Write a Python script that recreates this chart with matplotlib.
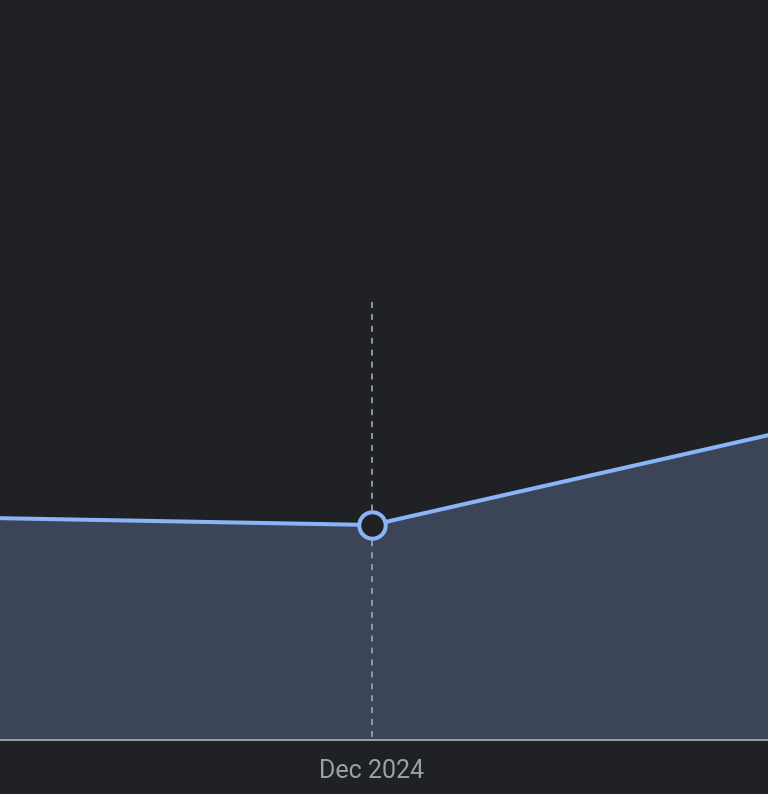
import numpy as np
import matplotlib.pyplot as plt

# Data (monthly values)
months = ["Nov 2024", "Dec 2024", "Jan 2025"]
values = [226, 215, 351]
highlight = "Dec 2024"

bg = "#202124"
line_c = "#8ab4f8"
fill_c = "#3b4557"
grid_c = "#9aa0a6"

x = np.arange(len(months))
hi = months.index(highlight)

fig = plt.figure(figsize=(7.68, 7.94), dpi=100, facecolor=bg)
ax = fig.add_axes([0, 54 / 794, 1, 740 / 794], facecolor=bg)

ax.fill_between(x, values, 0, color=fill_c, lw=0, zorder=1)
ax.plot(x, values, color=line_c, lw=2.9, solid_capstyle="round", zorder=3)

# hover crosshair (drawn top-down so the dashes start at the top) + marker
ax.plot([x[hi], x[hi]], [740 - 302, 0], color=grid_c, lw=1.3,
        ls=(0, (3.3, 3.3)), zorder=2)
ax.plot(x[hi], values[hi], "o", ms=19, mfc=bg, mec=line_c, mew=2.9, zorder=4)

s = 600  # pixels per month
ax.set_xlim(x[hi] - 372 / s, x[hi] + 396 / s)
ax.set_ylim(0, 740)

for sp in ["top", "left", "right"]:
    ax.spines[sp].set_visible(False)
ax.spines["bottom"].set_color(grid_c)
ax.spines["bottom"].set_linewidth(1.4)
ax.spines["bottom"].set_zorder(5)
ax.set_yticks([])
ax.set_xticks([x[hi]])
ax.set_xticklabels([highlight], color=grid_c, fontsize=18, family="Roboto")
ax.tick_params(axis="x", length=0, pad=14)

fig.savefig("out.png", dpi=100, facecolor=bg)
